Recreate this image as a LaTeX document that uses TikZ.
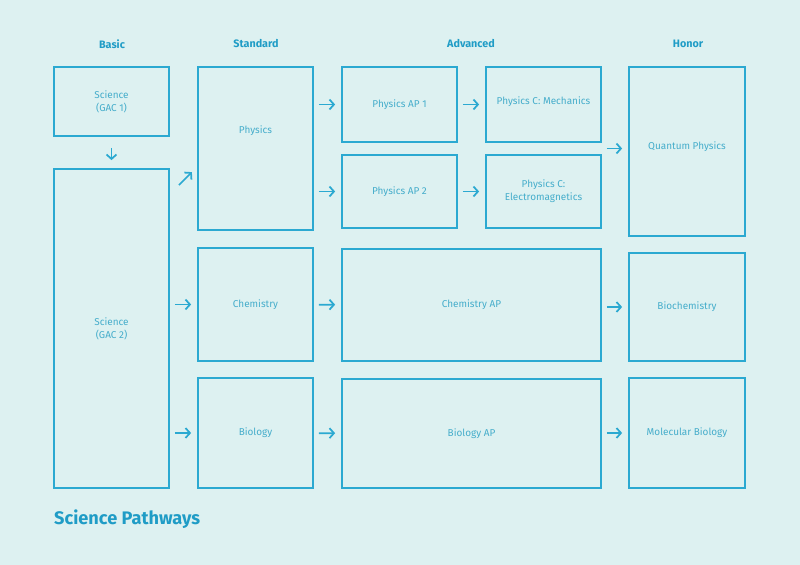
\documentclass[tikz,border=0pt]{standalone}
\usepackage{fontspec}
\setmainfont{Fira Sans}
\usetikzlibrary{arrows.meta,calc}
\definecolor{bgc}{HTML}{DDF1F1}
\definecolor{linec}{HTML}{2BA9D1}
\definecolor{textc}{HTML}{45ADCB}
\definecolor{headc}{HTML}{1F9CC6}
\newlength{\pxu}
\setlength{\pxu}{0.03cm}
\tikzset{
	box/.style={draw=linec, line width=1.5pt, text=textc, font=\fontsize{8.5}{11}\selectfont, align=center, inner sep=0pt},
	head/.style={text=headc, font=\fontsize{9.2}{11}\selectfont\bfseries},
	arr/.style={draw=linec, line width=1.5pt, -{Straight Barb[length=3.8pt,width=8.5pt,line width=1.5pt]}, shorten <=5\pxu, shorten >=6\pxu},
}
\begin{document}
\begin{tikzpicture}[x=0.03cm,y=-0.03cm]
	\fill[bgc] (0,0) rectangle (800,565);
	\useasboundingbox (0,0) rectangle (800,565);

	\node	(hbasic) at (112,44) [head] {Basic};
	\node	(hstd) at (256,44) [head] {Standard};
	\node	(hadv) at (471,44) [head] {Advanced};
	\node	(hhon) at (688,44) [head] {Honor};

	\node	(gac1) at (111.5,101.5) [box, minimum width=115\pxu, minimum height=69\pxu] {Science\\(GAC 1)};
	\node	(gac2) at (111.5,328.5) [box, minimum width=115\pxu, minimum height=319\pxu] {Science\\(GAC 2)};

	\node	(phys) at (255.5,148.5) [box, minimum width=115\pxu, minimum height=163\pxu] {\raisebox{15\pxu}[0pt][0pt]{Physics}};
	\node	(chem) at (255.5,304.5) [box, minimum width=115\pxu, minimum height=113\pxu] {Chemistry};
	\node	(bio) at (255.5,433) [box, minimum width=115\pxu, minimum height=110\pxu] {Biology};

	\node	(ap1) at (399.5,104.5) [box, minimum width=115\pxu, minimum height=75\pxu] {Physics AP 1};
	\node	(ap2) at (399.5,191.5) [box, minimum width=115\pxu, minimum height=73\pxu] {Physics AP 2};
	\node	(mech) at (543.5,104.5) [box, minimum width=115\pxu, minimum height=75\pxu] {\raisebox{0pt}[0pt][0pt]{Physics C: Mechanics}};
	\node	(em) at (543.5,191.5) [box, minimum width=115\pxu, minimum height=73\pxu] {Physics C:\\Electromagnetics};
	\node	(chemap) at (471.5,305) [box, minimum width=259\pxu, minimum height=112\pxu] {Chemistry AP};
	\node	(bioap) at (471.5,433.5) [box, minimum width=259\pxu, minimum height=109\pxu] {Biology AP};

	\node	(quant) at (687,151.5) [box, minimum width=116\pxu, minimum height=169\pxu] {\raisebox{2\pxu}[0pt][0pt]{Quantum Physics}};
	\node	(biochem) at (687,307) [box, minimum width=116\pxu, minimum height=108\pxu] {Biochemistry};
	\node	(molbio) at (687,433) [box, minimum width=116\pxu, minimum height=110\pxu] {Molecular Biology};

	\coordinate (qa) at ($(mech.south east)!0.5!(em.north east)$);

	\draw 
	(gac1) edge[arr, shorten <=11\pxu, shorten >=8\pxu] (gac2)
	($(gac2.north east)+(9,17)$) edge[arr, shorten <=0pt, shorten >=0pt] ($(gac2.north east)+(22,4)$)
	(gac2.east |- chem.west) edge[arr] (chem.west)
	(gac2.east |- bio.west) edge[arr] (bio.west)
	(phys.east |- ap1.west) edge[arr] (ap1.west)
	(phys.east |- ap2.west) edge[arr] (ap2.west)
	(ap1) edge[arr] (mech)
	(ap2.east |- em.west) edge[arr] (em.west)
	(qa) edge[arr] (quant.west |- qa)
	(chem) edge[arr] (chemap)
	(chemap.east |- biochem.west) edge[arr] (biochem.west)
	(bio) edge[arr] (bioap)
	(bioap.east |- molbio.west) edge[arr] (molbio.west)
	;

	\node	(title) at (54,519) [anchor=west, inner sep=0pt, text=headc, font=\fontsize{15.5}{18}\selectfont\bfseries] {Science Pathways};
\end{tikzpicture}
\end{document}
